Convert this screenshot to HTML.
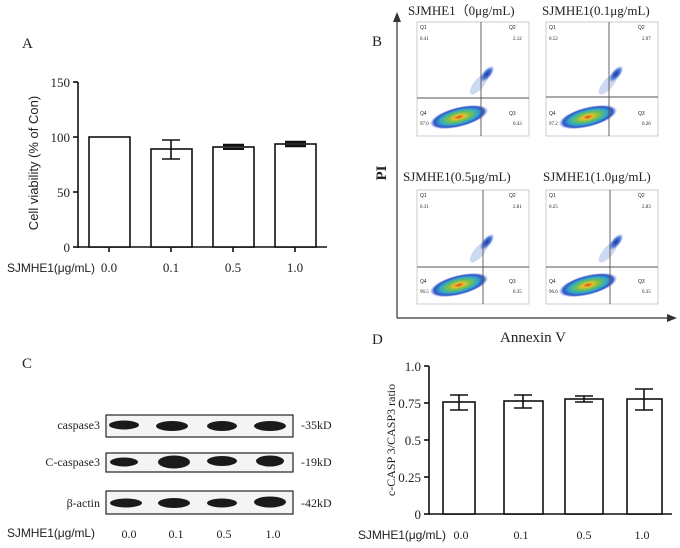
<!DOCTYPE html>
<html><head><meta charset="utf-8"><style>
html,body{margin:0;padding:0;background:#fff}
svg{display:block}
text{font-family:"Liberation Serif",serif;fill:#222}
.s{font-family:"Liberation Sans",sans-serif}
</style></head><body>
<svg width="680" height="548" viewBox="0 0 680 548" xmlns="http://www.w3.org/2000/svg">
<defs>
<radialGradient id="blob" cx="50%" cy="50%" r="50%">
<stop offset="0" stop-color="#e03010"/>
<stop offset="0.18" stop-color="#e8c030"/>
<stop offset="0.4" stop-color="#70c050"/>
<stop offset="0.65" stop-color="#30a8c8"/>
<stop offset="0.85" stop-color="#3050c8"/>
<stop offset="1" stop-color="#6080d8" stop-opacity="0"/>
</radialGradient>
<radialGradient id="blob2" cx="50%" cy="50%" r="50%">
<stop offset="0" stop-color="#2030a0"/>
<stop offset="0.6" stop-color="#5080d8"/>
<stop offset="1" stop-color="#7090e0" stop-opacity="0"/>
</radialGradient>
<g id="fc">
<rect x="0" y="0" width="112" height="114" fill="#fff" stroke="#aaa" stroke-width="0.6"/>
<ellipse cx="42" cy="95" rx="30" ry="10" fill="url(#blob)" transform="rotate(-14 42 95)"/>
<ellipse cx="62" cy="62" rx="5" ry="13" fill="#90a8e0" opacity="0.45" transform="rotate(40 62 62)"/>
<ellipse cx="70" cy="52" rx="4.5" ry="10" fill="url(#blob2)" transform="rotate(40 70 52)"/>
<text class="s" x="3" y="7" font-size="5" fill="#444">Q1</text>
<text class="s" x="92" y="7" font-size="5" fill="#444">Q2</text>
<text class="s" x="3" y="93" font-size="5" fill="#444">Q4</text>
<text class="s" x="92" y="93" font-size="5" fill="#444">Q3</text>
</g>
</defs>

<!-- Panel A -->
<text x="22" y="48" font-size="15">A</text>
<g stroke="#111" stroke-width="1.6" fill="none">
<line x1="78" y1="82" x2="78" y2="248"/>
<line x1="78" y1="247" x2="327" y2="247"/>
<line x1="73" y1="82" x2="78" y2="82"/><line x1="73" y1="137" x2="78" y2="137"/><line x1="73" y1="192" x2="78" y2="192"/><line x1="73" y1="247" x2="78" y2="247"/>
<line x1="109" y1="247" x2="109" y2="252"/><line x1="171" y1="247" x2="171" y2="252"/><line x1="233" y1="247" x2="233" y2="252"/><line x1="295" y1="247" x2="295" y2="252"/>
<rect x="89" y="137" width="41" height="110" fill="#fff"/>
<rect x="151" y="149" width="41" height="98" fill="#fff"/>
<rect x="213" y="147" width="41" height="100" fill="#fff"/>
<rect x="275" y="144" width="41" height="103" fill="#fff"/>
<line x1="171" y1="140" x2="171" y2="159"/><line x1="162" y1="140" x2="180" y2="140"/><line x1="162" y1="159" x2="180" y2="159"/>
<line x1="223" y1="145" x2="244" y2="145" stroke-width="2.5"/><line x1="223" y1="149" x2="244" y2="149" stroke-width="2"/>
<line x1="285" y1="142" x2="306" y2="142" stroke-width="2.5"/><line x1="285" y1="146" x2="306" y2="146" stroke-width="2.5"/>
</g>
<g font-size="13" text-anchor="end">
<text x="70" y="87">150</text><text x="70" y="142">100</text><text x="70" y="197">50</text><text x="70" y="252">0</text>
</g>
<text x="38" y="163" font-size="13" text-anchor="middle" transform="rotate(-90 38 163)" class="s">Cell  viability (% of Con)</text>
<g font-size="13" text-anchor="middle"><text x="109" y="272">0.0</text><text x="171" y="272">0.1</text><text x="233" y="272">0.5</text><text x="295" y="272">1.0</text></g>
<text x="7" y="272" font-size="12" class="s" textLength="88">SJMHE1(μg/mL)</text>

<!-- Panel B -->
<text x="372" y="46" font-size="15">B</text>
<g stroke="#333" stroke-width="1.2" fill="none">
<line x1="397" y1="20" x2="397" y2="318"/>
<line x1="397" y1="318" x2="670" y2="318"/>
</g>
<polygon points="397,12 393,22 401,22" fill="#333"/>
<polygon points="677,318 667,314 667,322" fill="#333"/>
<text x="386" y="173" font-size="15" text-anchor="middle" transform="rotate(-90 386 173)" font-weight="bold">PI</text>
<text x="533" y="342" font-size="15" text-anchor="middle">Annexin V</text>
<text x="408" y="15" font-size="13">SJMHE1（0μg/mL)</text>
<text x="542" y="15" font-size="13">SJMHE1(0.1μg/mL)</text>
<text x="403" y="181" font-size="13">SJMHE1(0.5μg/mL)</text>
<text x="543" y="181" font-size="13">SJMHE1(1.0μg/mL)</text>
<use href="#fc" x="417" y="22"/>
<use href="#fc" x="546" y="22"/>
<use href="#fc" x="417" y="190"/>
<use href="#fc" x="546" y="190"/>
<g stroke="#555" stroke-width="0.9">
<line x1="481" y1="22" x2="481" y2="136"/><line x1="417" y1="98" x2="529" y2="98"/>
<line x1="609" y1="22" x2="609" y2="136"/><line x1="546" y1="97" x2="658" y2="97"/>
<line x1="483" y1="190" x2="483" y2="304"/><line x1="417" y1="267" x2="529" y2="267"/>
<line x1="610" y1="190" x2="610" y2="304"/><line x1="546" y1="267" x2="658" y2="267"/>
</g>
<g class="s" font-size="5" fill="#555">
<text x="420" y="40">0.41</text><text x="513" y="40">2.12</text><text x="420" y="125">97.0</text><text x="513" y="125">0.43</text>
<text x="549" y="40">0.52</text><text x="642" y="40">2.07</text><text x="549" y="125">97.2</text><text x="642" y="125">0.26</text>
<text x="420" y="208">0.31</text><text x="513" y="208">2.81</text><text x="420" y="293">96.5</text><text x="513" y="293">0.35</text>
<text x="549" y="208">0.25</text><text x="642" y="208">2.83</text><text x="549" y="293">96.6</text><text x="642" y="293">0.35</text>
</g>

<!-- Panel C -->
<text x="22" y="368" font-size="15">C</text>
<g fill="#f4f4f4" stroke="#222" stroke-width="1.2">
<rect x="106" y="415" width="187" height="22"/>
<rect x="106" y="453" width="187" height="19"/>
<rect x="106" y="491" width="187" height="23"/>
</g>
<g fill="#1a1a1a">
<ellipse cx="124" cy="425" rx="15" ry="4.5"/><ellipse cx="172" cy="426" rx="16" ry="5"/><ellipse cx="222" cy="426" rx="15" ry="5"/><ellipse cx="270" cy="426" rx="16" ry="5"/>
<ellipse cx="124" cy="462" rx="14" ry="4.5"/><ellipse cx="174" cy="462" rx="16" ry="6.5"/><ellipse cx="222" cy="461" rx="15" ry="5"/><ellipse cx="270" cy="461" rx="14" ry="5.5"/>
<ellipse cx="126" cy="503" rx="16" ry="4.5"/><ellipse cx="174" cy="503" rx="16" ry="5"/><ellipse cx="222" cy="503" rx="15" ry="4.5"/><ellipse cx="270" cy="502" rx="16" ry="5.5"/>
</g>
<g font-size="12" text-anchor="end"><text x="100" y="429">caspase3</text><text x="100" y="466">C-caspase3</text><text x="100" y="507">β-actin</text></g>
<g font-size="12"><text x="301" y="429">-35kD</text><text x="301" y="466">-19kD</text><text x="301" y="507">-42kD</text></g>
<text x="7" y="537" font-size="12" class="s" textLength="88">SJMHE1(μg/mL)</text>
<g font-size="12" text-anchor="middle"><text x="129" y="538">0.0</text><text x="176" y="538">0.1</text><text x="224" y="538">0.5</text><text x="273" y="538">1.0</text></g>

<!-- Panel D -->
<text x="372" y="344" font-size="15">D</text>
<g stroke="#111" stroke-width="1.6" fill="none">
<line x1="429" y1="366" x2="429" y2="515"/>
<line x1="429" y1="514" x2="672" y2="514"/>
<line x1="424" y1="366" x2="429" y2="366"/><line x1="424" y1="403" x2="429" y2="403"/><line x1="424" y1="440" x2="429" y2="440"/><line x1="424" y1="477" x2="429" y2="477"/><line x1="424" y1="514" x2="429" y2="514"/>
<rect x="443" y="402" width="32" height="112" fill="#fff"/>
<rect x="504" y="401" width="39" height="113" fill="#fff"/>
<rect x="565" y="399" width="38" height="115" fill="#fff"/>
<rect x="627" y="399" width="35" height="115" fill="#fff"/>
<line x1="459" y1="395" x2="459" y2="410"/><line x1="450" y1="395" x2="468" y2="395"/><line x1="450" y1="410" x2="468" y2="410"/>
<line x1="523" y1="395" x2="523" y2="408"/><line x1="514" y1="395" x2="532" y2="395"/><line x1="514" y1="408" x2="532" y2="408"/>
<line x1="584" y1="396" x2="584" y2="402"/><line x1="575" y1="396" x2="593" y2="396"/><line x1="575" y1="402" x2="593" y2="402"/>
<line x1="644" y1="389" x2="644" y2="410"/><line x1="635" y1="389" x2="653" y2="389"/><line x1="635" y1="410" x2="653" y2="410"/>
</g>
<g font-size="13" text-anchor="end">
<text x="421" y="371">1.0</text><text x="421" y="408">0.75</text><text x="421" y="445">0.5</text><text x="421" y="482">0.25</text><text x="421" y="519">0</text>
</g>
<text x="395" y="440" font-size="12" text-anchor="middle" transform="rotate(-90 395 440)">c-CASP 3/CASP3  ratio</text>
<text x="358" y="539" font-size="12" class="s" textLength="88">SJMHE1(μg/mL)</text>
<g font-size="12" text-anchor="middle"><text x="461" y="539">0.0</text><text x="521" y="539">0.1</text><text x="584" y="539">0.5</text><text x="642" y="539">1.0</text></g>
</svg>
</body></html>
